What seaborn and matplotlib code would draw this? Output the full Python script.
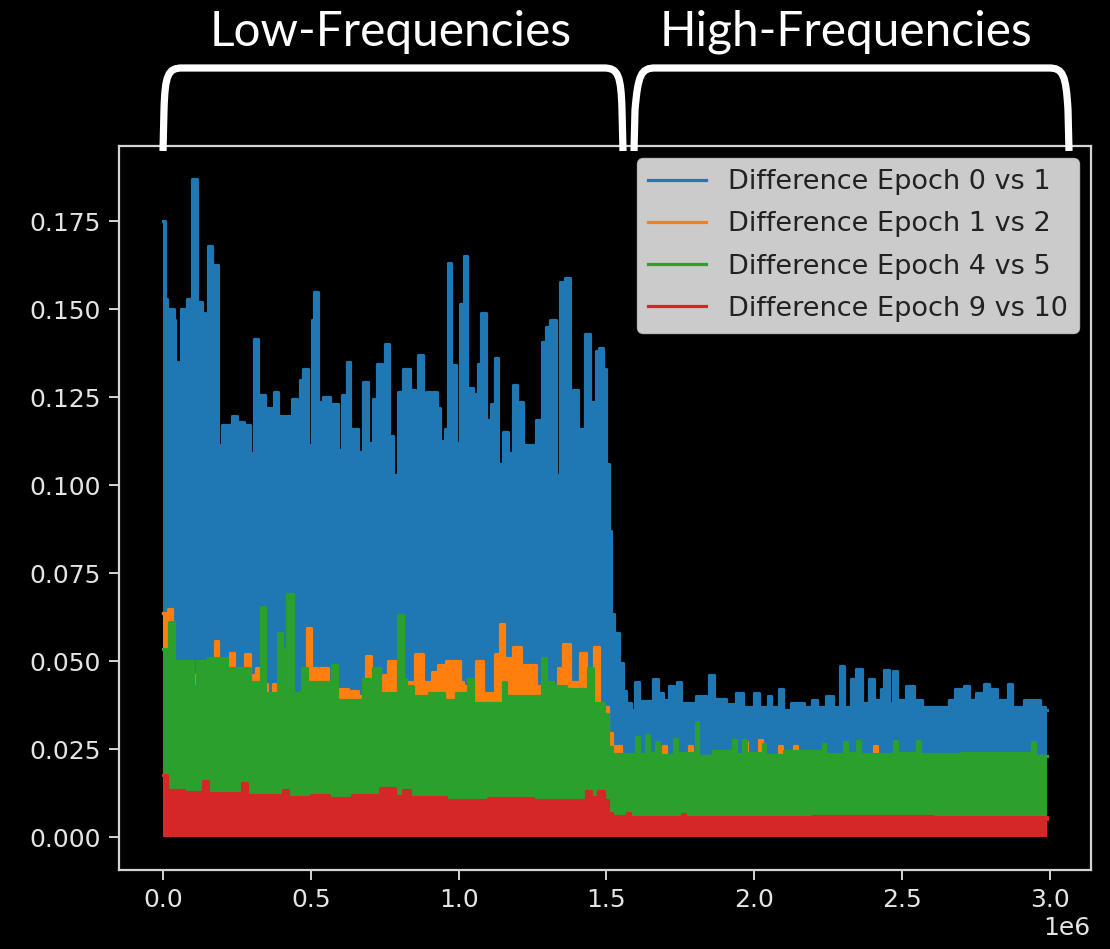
import numpy as np
import matplotlib
matplotlib.use("Agg")
import matplotlib.pyplot as plt
import seaborn as sns
from matplotlib.path import Path
from matplotlib.patches import PathPatch

# envelope of each difference curve, x in units of 1e6 (step-post breakpoints)
blue_x = [0.000, 0.007, 0.013, 0.035, 0.040, 0.050, 0.060, 0.080, 0.097, 0.114,
          0.130, 0.142, 0.153, 0.165, 0.187, 0.200, 0.232, 0.251, 0.272, 0.294,
          0.307, 0.322, 0.345, 0.358, 0.363, 0.375, 0.390, 0.405, 0.412, 0.435,
          0.452, 0.463, 0.474, 0.491, 0.502, 0.510, 0.525, 0.542, 0.564, 0.592,
          0.604, 0.621, 0.632, 0.660, 0.675, 0.694, 0.710, 0.722, 0.739, 0.750,
          0.765, 0.778, 0.795, 0.812, 0.834, 0.851, 0.863, 0.879, 0.891, 0.925,
          0.936, 0.953, 0.964, 0.975, 0.992, 1.003, 1.017, 1.028, 1.048, 1.065,
          1.077, 1.091, 1.110, 1.122, 1.133, 1.150, 1.167, 1.183, 1.197, 1.217,
          1.262, 1.283, 1.296, 1.310, 1.328, 1.344, 1.358, 1.375, 1.386, 1.403,
          1.422, 1.429, 1.445, 1.463, 1.476, 1.488, 1.499, 1.508, 1.516, 1.527,
          1.544, 1.555, 1.567, 1.583, 1.595, 1.611, 1.656, 1.673, 1.690, 1.713,
          1.730, 1.738, 1.752, 1.803, 1.837, 1.848, 1.865, 1.904, 1.938, 1.961,
          2.000, 2.017, 2.045, 2.056, 2.084, 2.096, 2.124, 2.169, 2.197, 2.214,
          2.242, 2.265, 2.289, 2.304, 2.327, 2.343, 2.366, 2.389, 2.405, 2.428,
          2.439, 2.456, 2.470, 2.484, 2.512, 2.541, 2.569, 2.659, 2.681, 2.709,
          2.726, 2.749, 2.777, 2.794, 2.822, 2.859, 2.873, 2.912, 2.968, 2.985,
          2.990]
blue_y = [0.175, 0.153, 0.150, 0.147, 0.135, 0.129, 0.150, 0.153, 0.187, 0.152,
          0.149, 0.147, 0.168, 0.1625, 0.1115, 0.117, 0.1195, 0.118, 0.117, 0.109,
          0.1415, 0.1257, 0.122, 0.104, 0.122, 0.1265, 0.1195, 0.108, 0.1195, 0.1246,
          0.103, 0.130, 0.133, 0.1115, 0.147, 0.155, 0.1237, 0.125, 0.123, 0.110,
          0.1255, 0.135, 0.116, 0.1095, 0.1294, 0.112, 0.1246, 0.1345, 0.113, 0.140,
          0.114, 0.103, 0.1265, 0.133, 0.127, 0.1076, 0.137, 0.124, 0.1265, 0.122,
          0.1124, 0.116, 0.163, 0.134, 0.112, 0.1515, 0.165, 0.1275, 0.126, 0.1345,
          0.149, 0.1186, 0.123, 0.136, 0.106, 0.115, 0.109, 0.1285, 0.1237, 0.1115,
          0.1186, 0.1407, 0.145, 0.147, 0.103, 0.1577, 0.1588, 0.1203, 0.127, 0.116,
          0.114, 0.143, 0.1237, 0.138, 0.139, 0.133, 0.106, 0.087, 0.0634, 0.058,
          0.0495, 0.0416, 0.038, 0.036, 0.044, 0.0388, 0.045, 0.041, 0.039, 0.043,
          0.039, 0.044, 0.0382, 0.040, 0.038, 0.046, 0.0393, 0.0377, 0.041, 0.037,
          0.041, 0.037, 0.040, 0.037, 0.042, 0.036, 0.0382, 0.037, 0.039, 0.037,
          0.040, 0.037, 0.0487, 0.037, 0.045, 0.0478, 0.038, 0.045, 0.039, 0.042,
          0.0476, 0.038, 0.0473, 0.039, 0.043, 0.039, 0.037, 0.039, 0.042, 0.043,
          0.039, 0.041, 0.0435, 0.042, 0.039, 0.0435, 0.037, 0.039, 0.037, 0.036,
          0.036]

orange_x = [0.000, 0.007, 0.015, 0.029, 0.102, 0.114, 0.176, 0.187, 0.226, 0.238,
            0.277, 0.294, 0.314, 0.325, 0.345, 0.352, 0.373, 0.386, 0.485, 0.499,
            0.519, 0.530, 0.559, 0.626, 0.660, 0.686, 0.702, 0.744, 0.761, 0.790,
            0.851, 0.879, 0.908, 0.930, 0.958, 1.003, 1.015, 1.060, 1.082, 1.122,
            1.139, 1.152, 1.155, 1.183, 1.212, 1.262, 1.335, 1.352, 1.375, 1.409,
            1.431, 1.459, 1.476, 1.504, 1.520, 1.530, 1.550, 1.690, 1.700, 1.780,
            1.790, 1.965, 1.975, 2.015, 2.025, 2.085, 2.095, 2.135, 2.145, 2.405,
            2.415, 2.990]
orange_y = [0.0637, 0.055, 0.0648, 0.046, 0.046, 0.044, 0.0558, 0.047, 0.0524, 0.046,
            0.052, 0.046, 0.048, 0.040, 0.0435, 0.040, 0.0435, 0.040, 0.0595, 0.048,
            0.044, 0.048, 0.042, 0.0415, 0.040, 0.0515, 0.043, 0.046, 0.050, 0.044,
            0.052, 0.044, 0.047, 0.049, 0.050, 0.044, 0.043, 0.050, 0.041, 0.052,
            0.0605, 0.046, 0.051, 0.054, 0.049, 0.043, 0.048, 0.055, 0.044, 0.0524,
            0.043, 0.054, 0.037, 0.0295, 0.023, 0.026, 0.023, 0.026, 0.023, 0.026,
            0.023, 0.027, 0.023, 0.0275, 0.023, 0.026, 0.023, 0.026, 0.023, 0.026,
            0.023, 0.023]

green_x = [0.000, 0.018, 0.035, 0.102, 0.114, 0.153, 0.215, 0.294, 0.330, 0.345,
           0.390, 0.401, 0.418, 0.440, 0.469, 0.485, 0.570, 0.587, 0.677, 0.699,
           0.710, 0.733, 0.795, 0.812, 0.823, 0.846, 0.900, 0.950, 0.990, 1.031,
           1.048, 1.150, 1.161, 1.283, 1.296, 1.319, 1.364, 1.437, 1.454, 1.490,
           1.504, 1.520, 1.600, 1.610, 1.634, 1.644, 1.668, 1.678, 1.730, 1.740,
           1.803, 1.810, 1.860, 1.927, 1.937, 1.961, 1.971, 2.028, 2.038, 2.100,
           2.231, 2.241, 2.304, 2.314, 2.349, 2.359, 2.473, 2.483, 2.552, 2.562,
           2.700, 2.940, 2.950, 2.990]
green_y = [0.0535, 0.061, 0.050, 0.043, 0.050, 0.051, 0.048, 0.044, 0.0654, 0.041,
           0.058, 0.0535, 0.069, 0.041, 0.048, 0.044, 0.049, 0.039, 0.045, 0.041,
           0.048, 0.041, 0.063, 0.045, 0.043, 0.040, 0.041, 0.039, 0.041, 0.045,
           0.038, 0.044, 0.040, 0.051, 0.044, 0.043, 0.042, 0.048, 0.038, 0.035,
           0.0255, 0.0235, 0.0283, 0.0235, 0.029, 0.024, 0.027, 0.0232, 0.028, 0.0238,
           0.0326, 0.023, 0.0245, 0.0275, 0.0235, 0.0275, 0.024, 0.0265, 0.0232, 0.0245,
           0.0265, 0.0235, 0.027, 0.024, 0.0272, 0.0235, 0.0272, 0.0238, 0.0272, 0.0235,
           0.024, 0.027, 0.023, 0.023]

red_x = [0.000, 0.012, 0.069, 0.136, 0.153, 0.266, 0.283, 0.406, 0.423, 0.500,
         0.560, 0.640, 0.733, 0.784, 0.812, 0.834, 0.958, 1.100, 1.250, 1.431,
         1.448, 1.470, 1.490, 1.504, 1.520, 1.570, 1.580, 1.757, 1.767, 2.200,
         2.600, 2.990]
red_y = [0.0175, 0.0133, 0.0128, 0.016, 0.0125, 0.0155, 0.012, 0.0135, 0.0115, 0.012,
         0.0112, 0.012, 0.014, 0.0118, 0.0133, 0.0115, 0.0105, 0.0112, 0.0105, 0.013,
         0.0115, 0.013, 0.0105, 0.0068, 0.006, 0.0068, 0.0058, 0.0066, 0.0057, 0.006,
         0.0056, 0.0052]

labels = ["Difference Epoch 0 vs 1", "Difference Epoch 1 vs 2",
          "Difference Epoch 4 vs 5", "Difference Epoch 9 vs 10"]
colors = ["#1f77b4", "#ff7f0e", "#2ca02c", "#d62728"]
band_titles = ["Low-Frequencies", "High-Frequencies"]

W, H = 1110, 949
plt.rcParams["xtick.labelsize"] = 18
plt.rcParams["ytick.labelsize"] = 18

fig = plt.figure(figsize=(W / 100, H / 100), dpi=100, facecolor="black")
ax = fig.add_axes([119 / W, 79 / H, 972 / W, 724 / H])
ax.set_facecolor("black")

series = [(blue_x, blue_y), (orange_x, orange_y), (green_x, green_y), (red_x, red_y)]
for z, ((xs, ys), lab, c) in enumerate(zip(series, labels, colors), start=2):
    x = np.array(xs) * 1e6
    y = np.array(ys)
    ax.fill_between(x, y, 0, step="post", color=c, linewidth=0, zorder=z)
    sns.lineplot(x=x, y=y, ax=ax, color=c, label=lab, drawstyle="steps-post",
                 linewidth=2.3, zorder=z, estimator=None, sort=False)

ax.set_xlabel("")
ax.set_ylabel("")
ax.set_yticks(np.arange(0, 0.176, 0.025))

for s in ax.spines.values():
    s.set_color("#d4d4d4")
    s.set_linewidth(1.6)
ax.tick_params(colors="#d4d4d4", labelcolor="#e4e4e4", length=7, width=1.4, pad=6)
ax.xaxis.get_offset_text().set_color("#e4e4e4")

leg = ax.legend(loc="upper right", fontsize=19.5, facecolor="white", framealpha=0.8,
                edgecolor="0.8", labelcolor="#222222", handlelength=2.15,
                labelspacing=0.6, borderaxespad=0.45)
leg.set_zorder(10)

# band titles, sized so "Low-Frequencies" spans ~362 px
renderer = fig.canvas.get_renderer()
probe = fig.text(0, 0, band_titles[0], fontsize=36, family="Lato")
w = probe.get_window_extent(renderer).width
probe.remove()
fs = 36 * 362 / w
for t, cx in zip(band_titles, [391, 846]):
    fig.text(cx / W, 1 - 46 / H, t, fontsize=fs, family="Lato", color="white",
             ha="center", va="baseline")


def brace(x0b, x0t, x1t, x1b):
    pts = [(x0b, 151), (x0b + 1, 110), (x0t - 8, 75), (x0t - 5, 68), (x0t + 9, 68),
           (x1t - 9, 68), (x1t + 5, 68), (x1t + 8, 75), (x1b - 1, 110), (x1b, 151)]
    codes = [Path.MOVETO, Path.LINETO, Path.CURVE4, Path.CURVE4, Path.CURVE4,
             Path.LINETO, Path.CURVE4, Path.CURVE4, Path.CURVE4, Path.LINETO]
    verts = [(px / W, 1 - py / H) for px, py in pts]
    patch = PathPatch(Path(verts, codes), transform=fig.transFigure, fill=False,
                      edgecolor="white", linewidth=5.2, capstyle="butt",
                      joinstyle="round", zorder=20)
    fig.add_artist(patch)


brace(163, 173, 613, 623)
brace(634, 646, 1058, 1069)

fig.savefig("out.png", dpi=100, facecolor="black")
